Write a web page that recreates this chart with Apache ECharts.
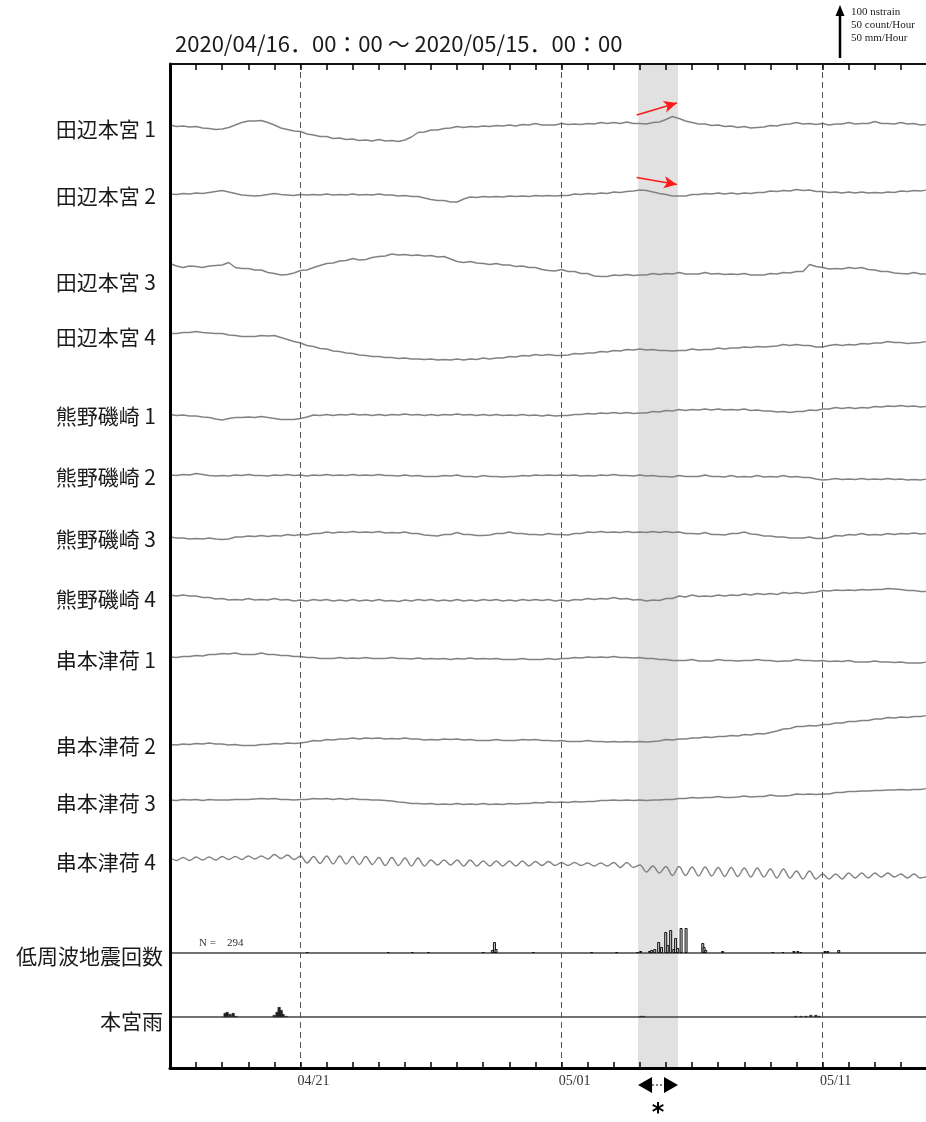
<!DOCTYPE html>
<html><head><meta charset="utf-8">
<script src="https://cdn.jsdelivr.net/npm/echarts@6/dist/echarts.min.js"></script>
<style>html,body{margin:0;padding:0;background:#fff;overflow:hidden}#c{width:926px;height:1122px}</style>
</head><body><div id="c"></div>
<script>
// ---------------- DATA ----------------
const titleText = '2020/04/16．00：00 ～ 2020/05/15．00：00';
const stationNames = ['田辺本宮 1','田辺本宮 2','田辺本宮 3','田辺本宮 4','熊野磯崎 1','熊野磯崎 2','熊野磯崎 3','熊野磯崎 4','串本津荷 1','串本津荷 2','串本津荷 3','串本津荷 4'];
const barNames = ['低周波地震回数','本宮雨'];
const dateLabels = ['04/21','05/01','05/11'];
const dateLabelDays = [5, 15, 25];
const guideDays = [5, 15, 25];
const eventSpan = [17.93, 19.46];
const totalLFE = 294;
const scaleLegend = ['100 nstrain','50 count/Hour','50 mm/Hour'];
const DAYS = 29;          // 04/16 00:00 .. 05/15 00:00
const STEP = 0.25;        // days per strain sample

// strain (nstrain, relative), one value every 6 hours
const trace1 = [0,-3,-2,-4, -3,-6,-7,-9, -8,-5,0,5, 8,8,9,5, 0,-6,-9,-12, -13,-18,-20,-23, -23,-27,-26,-29, -28,-31,-30,-32, -29,-32,-31,-33, -30,-24,-15,-14, -10,-10,-7,-6, -3,-5,-3,-4, -2,-3,-1,-2, 0,-2,1,0, 3,0,0,0, 3,1,2,1, 3,2,5,3, 5,3,6,3, 3,2,5,6, 11,17,13,8, 5,2,2,-1, 0,-3,-2,-5, -3,-6,-5,-4, -1,-2,1,2, 5,2,3,1, 3,0,2,2, 5,2,3,3, 7,3,3,2, 5,2,3,0, 1];
const trace2 = [0,-1,1,0, 2,1,3,5, 7,4,1,-2, -3,-4,-3,-1, 1,-1,-2,-3, -1,-2,-1,-2, 0,-2,-1,-2, 0,-2,-1,-2, 0,-2,-2,-4, -3,-5,-5,-8, -11,-13,-13,-16, -16,-10,-6,-7, -5,-6,-5,-6, -4,-5,-4,-5, -3,-4,-3,-4, -3,-3,0,-1, 1,0,2,1, 4,3,5,6, 8,7,4,1, -1,-4,-4,-4, -1,-1,1,0, 2,0,2,0, 2,1,3,3, 6,5,7,6, 9,7,8,5, 5,3,4,2, 4,2,4,2, 3,2,4,3, 6,5,7,6, 8];
const trace3 = [3,-2,-5,-2, -3,-5,-2,-1, 0,5,-5,-7, -7,-10,-10,-15, -17,-20,-19,-16, -11,-10,-5,-1, 3,4,8,9, 13,10,11,15, 17,18,22,20, 21,19,20,18, 19,16,17,12, 7,5,7,4, 3,1,3,0, 0,-3,-2,-5, -5,-9,-11,-12, -9,-13,-13,-17, -17,-22,-23,-23, -20,-21,-19,-21, -20,-20,-17,-19, -17,-18,-15,-18, -18,-18,-15,-18, -17,-19,-18,-19, -17,-20,-20,-20, -17,-18,-15,-16, -13,-13,1,-3, -5,-8,-7,-8, -5,-7,-5,-9, -10,-13,-13,-16, -17,-18,-15,-18, -18];
const trace4 = [-1,-1,1,1, 3,1,0,-1, -1,-4,-5,-7, -7,-7,-5,-6, -5,-9,-13,-17, -20,-25,-27,-31, -32,-36,-37,-40, -41,-44,-45,-47, -47,-49,-49,-51, -50,-52,-52,-53, -52,-54,-53,-54, -52,-54,-52,-53, -50,-52,-50,-50, -47,-48,-45,-46, -43,-45,-43,-45, -45,-44,-41,-42, -40,-40,-37,-38, -35,-36,-33,-34, -32,-34,-33,-35, -35,-36,-35,-35, -32,-34,-33,-33, -30,-32,-30,-30, -28,-29,-27,-28, -27,-26,-23,-25, -23,-25,-25,-28, -28,-25,-23,-25, -23,-24,-21,-22, -20,-20,-17,-19, -19,-21,-20,-19, -17];
const trace5 = [1,-1,0,-2, -2,-4,-5,-8, -10,-7,-5,-5, -4,-5,-3,-5, -7,-9,-9,-9, -7,-4,0,-1, 1,-1,1,0, 2,0,1,-1, 1,-1,1,0, 2,0,1,-1, 1,-1,1,0, 2,0,1,-1, 1,-1,1,-1, 0,-1,1,-1, 0,-2,0,-2, -1,-1,1,1, 3,2,4,3, 5,3,5,3, 4,4,7,6, 9,8,11,9, 11,10,12,10, 12,10,11,10, 12,9,10,8, 8,6,7,5, 7,7,10,9, 12,12,15,13, 15,13,15,14, 17,16,18,17, 19,17,18,16, 17];
const trace6 = [0,-1,1,0, 3,1,-1,-2, -1,-2,0,-1, 1,-1,-1,-2, 0,-1,1,-1, 0,-2,0,-1, 1,-1,0,-1, 1,-1,0,-1, 1,-1,-1,-2, 0,-2,-1,-3, -3,-3,-1,-2, 0,-3,-3,-4, -1,-3,-3,-4, -3,-3,-1,-2, 0,-1,0,-1, 0,-1,0,-2, -1,-2,0,-1, 1,-1,-1,-2, 0,-2,-1,-3, -3,-4,-1,-3, -3,-3,0,-3, -3,-4,-1,-4, -3,-4,-1,-4, -3,-4,-1,-4, -3,-5,-5,-8, -10,-9,-7,-9, -8,-9,-7,-9, -8,-9,-7,-9, -8,-10,-9,-10, -8];
const trace7 = [0,-2,-2,-4, -3,-4,-2,-4, -5,-4,0,0, 2,1,3,1, 3,2,5,3, 5,4,7,7, 10,8,10,9, 11,9,10,9, 11,8,9,8, 10,7,7,4, 3,2,5,5, 9,5,5,3, 3,4,7,7, 10,7,7,5, 5,4,7,5, 5,4,7,7, 10,9,11,9, 10,9,11,9, 10,9,11,9, 11,9,10,7, 7,6,9,5, 5,4,7,7, 10,6,5,2, 2,0,0,-2, -2,-2,0,-3, -3,-1,3,2, 5,4,7,4, 5,4,7,5, 7,6,8,6, 7];
const trace8 = [0,-2,0,-2, -2,-5,-5,-8, -7,-10,-9,-10, -7,-10,-9,-10, -7,-10,-9,-12, -10,-12,-9,-11, -9,-12,-10,-12, -9,-12,-10,-12, -9,-12,-11,-13, -10,-12,-9,-11, -9,-12,-10,-12, -9,-12,-10,-12, -9,-11,-9,-12, -10,-12,-9,-11, -9,-11,-9,-12, -10,-12,-9,-10, -7,-9,-7,-8, -5,-8,-7,-10, -9,-12,-10,-11, -7,-7,-2,-4, 0,-3,-2,-3, 0,-2,0,-1, 2,0,3,1, 3,1,5,3, 5,3,5,6, 9,8,10,9, 10,9,11,10, 11,11,13,12, 11,9,9,7, 7];
const trace9 = [0,-1,1,1, 3,2,5,5, 7,6,8,5, 5,5,8,5, 5,3,3,1, 1,-1,-1,-3, -3,-3,-1,-3, -2,-3,-1,-3, -3,-3,-1,-3, -3,-4,-2,-4, -3,-4,-3,-5, -3,-4,-2,-4, -3,-4,-3,-5, -5,-5,-3,-5, -5,-5,-3,-5, -3,-3,-1,-2, 0,-1,0,-1, 1,-1,-1,-2, -1,-3,-3,-5, -5,-7,-7,-7, -5,-8,-8,-8, -5,-7,-7,-8, -7,-7,-5,-7, -7,-9,-8,-8, -5,-7,-7,-8, -7,-9,-8,-9, -7,-10,-10,-10, -8,-10,-10,-11, -10,-12,-12,-12, -10];
const trace10 = [-1,-2,0,-1, 1,0,2,0, 0,-2,-1,-3, -3,-3,-1,-1, 1,0,2,1, 2,4,7,6, 9,8,10,10, 12,10,12,11, 12,10,11,10, 12,10,10,8, 9,8,10,9, 10,8,9,7, 7,7,9,7, 7,7,9,8, 9,7,7,6, 7,5,5,5, 7,5,5,4, 5,4,5,4, 5,4,5,6, 9,8,10,10, 12,12,14,13, 15,15,17,16, 19,18,21,20, 23,26,30,31, 35,35,37,36, 39,39,42,42, 45,45,47,47, 50,50,53,52, 54,53,55,55, 57];
const trace11 = [0,-1,1,0, 1,-1,1,0, 0,0,1,1, 1,2,3,2, 3,1,1,0, 1,1,3,2, 3,1,3,1, 3,1,1,0, 0,-1,-2,-4, -5,-7,-7,-8, -7,-9,-8,-9, -7,-9,-8,-9, -7,-9,-8,-9, -7,-8,-7,-7, -5,-6,-4,-5, -4,-5,-3,-4, -3,-3,-1,-1, 0,-1,0,-1, 0,-1,0,0, 1,1,3,3, 5,4,5,5, 7,5,5,6, 8,6,7,7, 10,8,8,9, 12,11,12,11, 12,12,15,15, 17,17,18,18, 19,19,20,20, 21,20,21,21, 23];
const trace12 = [5,-1,5,-1, 6,0,6,0, 7,1,7,1, 8,2,8,2, 11,3,10,1, 8,-6,7,-7, 8,-8,8,-8, 7,-9,7,-9, 5,-11,5,-11, 4,-12,4,-12, 0,-10,0,-10, 0,-12,0,-12, -2,-12,-2,-12, -2,-12,-2,-12, -3,-11,-3,-11, -5,-11,-5,-11, -6,-12,-6,-12, -5,-15,-5,-15, -10,-24,-12,-26, -13,-31,-13,-31, -14,-32,-14,-32, -15,-33,-15,-33, -16,-34,-16,-34, -18,-36,-18,-36, -22,-38,-22,-38, -28,-38,-28,-38, -26,-36,-26,-36, -26,-34,-26,-34, -28,-36,-28,-36, -33];

// low-frequency earthquakes per hour
const lfeDays   = [5.26,8.36,9.28,9.9,12.0,12.35,12.43,12.49,13.92,16.15,17.11,17.91,18.03,18.37,18.45,18.57,18.72,18.83,18.99,19.07,19.18,19.30,19.37,19.45,19.58,19.77,20.41,20.46,20.52,21.17,23.09,23.48,23.9,24.05,24.17,25.09,25.2,25.62];
const lfeCounts = [1,1,1,1,1,3,11,4,1,1,1,1,2,2,3,4,11,6,21,8,23,4,15,5,25,25,10,6,3,2,1,1,2,2,1,2,2,3];
// rainfall mm/hour
const rainDays = [2.11,2.19,2.3,2.42,2.53,3.99,4.1,4.18,4.26,4.33,4.45,18.03,18.14,23.97,24.17,24.36,24.55,24.74,24.86];
const rainMm   = [4,5,3,4,1,2,5,10,7,3,1,1,1,1,1,1,2,2,1];

// arrows marking the event (nstrain values relative to trace)
const arrow1 = [[17.88, 20],[19.42, 44]];
const arrow2 = [[17.88, 33],[19.42, 19]];

// ---------------- LAYOUT ----------------
const PLOT = {left:170, top:64, width:757, height:1004};
const TRACE_BASE = [125,194,265,333,415,475,537,595,657,744,800,860];
const LABEL_Y = [129,196,282,337,416,477,539,599,660,746,803,862];
const BAR_BASE = [953,1017];
const BAR_LABEL_Y = [956,1021];
const HALF = 100;  // nstrain half-range; 200 nstrain -> 100 px
const BARMAX = 50; // 50 count or mm -> 50 px

const traces = [trace1,trace2,trace3,trace4,trace5,trace6,trace7,trace8,trace9,trace10,trace11,trace12];
const TRACE_COLOR = '#828282';
const mkGrid = (top, height) => ({left:PLOT.left, width:PLOT.width, top, height, outerBoundsMode:'none', containLabel:false});

const grids = [mkGrid(PLOT.top, PLOT.height)];
const xAxes = [
  {gridIndex:0, type:'value', min:0, max:DAYS, interval:1, position:'bottom', z:6,
   axisLine:{show:true, onZero:false, lineStyle:{color:'#000', width:3}},
   axisTick:{show:true, inside:true, length:6, lineStyle:{color:'#000', width:1.5}},
   axisLabel:{show:false}, splitLine:{show:false}},
  {gridIndex:0, type:'value', min:0, max:DAYS, interval:1, position:'top', z:6,
   axisLine:{show:true, onZero:false, lineStyle:{color:'#111', width:2}},
   axisTick:{show:true, inside:true, length:6, lineStyle:{color:'#000', width:1.5}},
   axisLabel:{show:false}, splitLine:{show:false}},
  {gridIndex:0, type:'value', min:0, max:DAYS, interval:0.5, position:'bottom',
   axisLine:{show:false, onZero:false}, axisTick:{show:false}, splitLine:{show:false},
   axisLabel:{show:true, margin:6, fontFamily:'Liberation Serif', fontSize:14, color:'#333',
     formatter:v=>{const i=dateLabelDays.indexOf(v-0.5); return i>=0?dateLabels[i]:'';}}}
];
const yAxes = [
  {gridIndex:0, type:'value', min:0, max:1, z:6, axisLine:{show:true, lineStyle:{color:'#000', width:3}},
   axisTick:{show:false}, axisLabel:{show:false}, splitLine:{show:false}}
];
const series = [{
  type:'line', xAxisIndex:0, yAxisIndex:0, data:[], z:-5, silent:true,
  markArea:{silent:true, itemStyle:{color:'#e1e1e1'}, data:[[{xAxis:eventSpan[0]},{xAxis:eventSpan[1]}]]},
  markLine:{silent:true, symbol:['none','none'], label:{show:false},
    lineStyle:{color:'#555', width:1, type:[6,4]},
    data:guideDays.map(d=>({xAxis:d}))}
}];

traces.forEach((tr,i)=>{
  const gi = grids.length;
  grids.push(mkGrid(TRACE_BASE[i]-HALF/2, HALF));
  xAxes.push({gridIndex:gi, type:'value', min:0, max:DAYS, show:false});
  yAxes.push({gridIndex:gi, type:'value', min:-HALF, max:HALF, show:false});
  const s = {type:'line', xAxisIndex:xAxes.length-1, yAxisIndex:yAxes.length-1,
    data:tr.map((v,k)=>[k*STEP, v]), showSymbol:false, symbol:'none', silent:true,
    smooth: i===11 ? 0.35 : false,
    lineStyle:{color:TRACE_COLOR, width:1.4}, z:3};
  const arr = i===0?arrow1:(i===1?arrow2:null);
  if(arr){
    s.markLine = {silent:true, symbol:['none','arrow'], symbolSize:[9,13], label:{show:false},
      lineStyle:{color:'#ff1a1a', width:1.6, type:'solid'},
      data:[[{coord:arr[0]},{coord:arr[1]}]]};
  }
  series.push(s);
});

[[lfeDays,lfeCounts],[rainDays,rainMm]].forEach(([dd,vv],j)=>{
  const gi = grids.length;
  grids.push(mkGrid(BAR_BASE[j]-BARMAX, BARMAX));
  xAxes.push({gridIndex:gi, type:'value', min:0, max:DAYS, z:4,
    axisLine:{show:true, onZero:false, lineStyle:{color:'#444', width:1.5}},
    axisTick:{show:false}, axisLabel:{show:false}, splitLine:{show:false}});
  yAxes.push({gridIndex:gi, type:'value', min:0, max:BARMAX, show:false});
  series.push({type:'bar', xAxisIndex:xAxes.length-1, yAxisIndex:yAxes.length-1, silent:true,
    data:dd.map((d,k)=>[d, vv[k]]), barWidth:3, z:5,
    itemStyle: j===0 ? {color:'#cfcfcf', borderColor:'#111', borderWidth:1} : {color:'#222', borderColor:'#222', borderWidth:0.5}});
});

const chart = echarts.init(document.getElementById('c'), null, {width:926, height:1122});
chart.setOption({animation:false, backgroundColor:'#fff', grid:grids, xAxis:xAxes, yAxis:yAxes, series:series});

// ---------------- ANNOTATIONS ----------------
const px = v => chart.convertToPixel({xAxisIndex:0}, v);
const LABEL_FONT = '21px "Noto Sans CJK JP"';
const g = [];
g.push({type:'text', style:{text:titleText, x:175, y:44, font:'22px "Noto Sans CJK JP"', fill:'#1a1a1a', textVerticalAlign:'middle'}});
stationNames.forEach((n,i)=>g.push({type:'text', style:{text:n, x:156, y:LABEL_Y[i], font:LABEL_FONT, fill:'#1a1a1a', textAlign:'right', textVerticalAlign:'middle'}}));
barNames.forEach((n,i)=>g.push({type:'text', style:{text:n, x:163, y:BAR_LABEL_Y[i], font:LABEL_FONT, fill:'#1a1a1a', textAlign:'right', textVerticalAlign:'middle'}}));
g.push({type:'text', style:{text:'N =    ' + totalLFE, x:199, y:943, font:'11px "Liberation Serif"', fill:'#333', textVerticalAlign:'middle'}});

// scale legend arrow: length = 100 nstrain on the strain axes
const y0 = chart.convertToPixel({yAxisIndex:1}, 0), y100 = chart.convertToPixel({yAxisIndex:1}, 100);
const len = y0 - y100;
const LX = 840, LB = 58;
g.push({type:'line', shape:{x1:LX, y1:LB, x2:LX, y2:LB-len+6}, style:{stroke:'#000', lineWidth:2.5}});
g.push({type:'polygon', shape:{points:[[LX-4.5,LB-len+8],[LX+4.5,LB-len+8],[LX,LB-len-3]]}, style:{fill:'#000'}});
scaleLegend.forEach((t,i)=>g.push({type:'text', style:{text:t, x:851, y:12+i*13, font:'11px "Liberation Serif"', fill:'#222', textVerticalAlign:'middle'}}));

// event span double arrow + asterisk below the axis
const ex1 = px(eventSpan[0]), ex2 = px(eventSpan[1]), AY = 1085;
g.push({type:'polygon', shape:{points:[[ex1,AY],[ex1+14,AY-8],[ex1+14,AY+8]]}, style:{fill:'#000'}});
g.push({type:'polygon', shape:{points:[[ex2,AY],[ex2-14,AY-8],[ex2-14,AY+8]]}, style:{fill:'#000'}});
g.push({type:'line', shape:{x1:ex1+14, y1:AY, x2:ex2-14, y2:AY}, style:{stroke:'#000', lineWidth:1.2, lineDash:[2,2]}});
g.push({type:'text', style:{text:'*', x:(ex1+ex2)/2, y:1114, font:'bold 24px "DejaVu Sans"', fill:'#000', textAlign:'center', textVerticalAlign:'middle'}});

chart.setOption({graphic:g});
</script></body></html>
